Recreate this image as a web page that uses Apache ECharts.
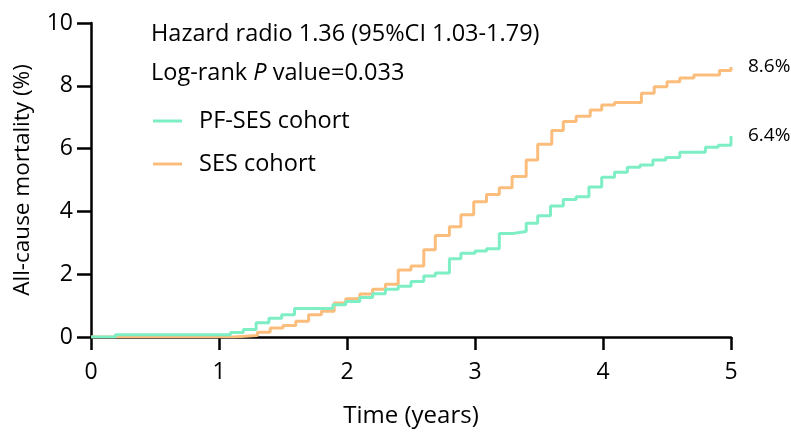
<!DOCTYPE html>
<html>
<head>
<meta charset="utf-8">
<script src="https://cdn.jsdelivr.net/npm/echarts@6/dist/echarts.min.js"></script>
<style>
  html, body { margin: 0; padding: 0; background: #fff; }
  #chart { width: 791px; height: 433px; }
</style>
</head>
<body>
<div id="chart"></div>
<script>
// time points (years) and cumulative mortality (%)
var pfTimes = [0, 0.19, 1.09, 1.19, 1.29, 1.39, 1.49, 1.59, 1.89, 1.99, 2.10, 2.20, 2.30, 2.40, 2.50, 2.60, 2.69, 2.80, 2.89, 3.00, 3.09, 3.19, 3.30, 3.40, 3.49, 3.59, 3.69, 3.79, 3.89, 3.99, 4.09, 4.19, 4.29, 4.39, 4.49, 4.60, 4.80, 4.90, 5.0];
var pfMort  = [0, 0.07, 0.14, 0.24, 0.45, 0.60, 0.71, 0.91, 1.03, 1.13, 1.26, 1.38, 1.52, 1.62, 1.77, 1.94, 2.04, 2.49, 2.67, 2.74, 2.81, 3.30, 3.36, 3.62, 3.86, 4.17, 4.38, 4.47, 4.78, 5.09, 5.25, 5.41, 5.48, 5.64, 5.72, 5.88, 6.04, 6.11, 6.4];

var sesTimes = [0, 1.11, 1.30, 1.40, 1.50, 1.60, 1.70, 1.80, 1.90, 1.99, 2.10, 2.20, 2.30, 2.40, 2.50, 2.60, 2.69, 2.80, 2.89, 2.99, 3.09, 3.19, 3.29, 3.40, 3.49, 3.60, 3.69, 3.79, 3.90, 3.99, 4.09, 4.30, 4.40, 4.50, 4.60, 4.71, 4.91, 5.0];
var sesMort  = [0, 0.05, 0.15, 0.29, 0.37, 0.50, 0.71, 0.82, 1.08, 1.22, 1.37, 1.52, 1.68, 2.13, 2.26, 2.78, 3.23, 3.51, 3.89, 4.31, 4.54, 4.75, 5.11, 5.64, 6.14, 6.58, 6.86, 7.03, 7.23, 7.39, 7.47, 7.76, 7.97, 8.13, 8.25, 8.34, 8.49, 8.6];

var xTicks = [0, 1, 2, 3, 4, 5];
var yTicks = [0, 2, 4, 6, 8, 10];

var green = '#7eeec5';
var orange = '#fbbd7c';
var font = 'Open Sans';

function pairs(ts, vs) {
  var out = [];
  for (var i = 0; i < ts.length; i++) out.push([ts[i], vs[i]]);
  return out;
}

var chart = echarts.init(document.getElementById('chart'));
chart.setOption({
  animation: false,
  textStyle: { fontFamily: font, color: '#000' },
  title: [
    {
      text: 'Hazard radio 1.36 (95%CI 1.03-1.79)',
      left: 146, top: 17,
      textStyle: { fontFamily: font, fontSize: 23.5, fontWeight: 'normal', color: '#000' }
    },
    {
      text: 'Log-rank {i|P} value=0.033',
      left: 146, top: 56,
      textStyle: {
        fontFamily: font, fontSize: 23.5, fontWeight: 'normal', color: '#000',
        rich: { i: { fontFamily: font, fontSize: 23.5, fontStyle: 'italic', color: '#000' } }
      }
    }
  ],
  legend: {
    orient: 'vertical',
    left: 148, top: 103,
    icon: 'rect',
    itemWidth: 29, itemHeight: 3,
    itemGap: 17,
    textStyle: { fontFamily: font, fontSize: 23.5, color: '#000', lineHeight: 26, padding: [0, 0, 0, 12] },
    data: ['PF-SES cohort', 'SES cohort']
  },
  grid: { left: 91, right: 60, top: 23, bottom: 92, containLabel: false },
  xAxis: {
    type: 'value',
    min: xTicks[0], max: xTicks[xTicks.length - 1], interval: 1,
    name: 'Time (years)',
    nameLocation: 'middle', nameGap: 67,
    nameTextStyle: { fontFamily: font, fontSize: 24, color: '#000' },
    axisLine: { lineStyle: { color: '#000', width: 2.5 } },
    axisTick: { length: 13, lineStyle: { color: '#000', width: 2.5 } },
    axisLabel: { fontFamily: font, fontSize: 23, color: '#000', margin: 24 },
    splitLine: { show: false }
  },
  yAxis: {
    type: 'value',
    min: yTicks[0], max: yTicks[yTicks.length - 1], interval: 2,
    name: 'All-cause mortality (%)',
    nameLocation: 'middle', nameGap: 57,
    nameTextStyle: { fontFamily: font, fontSize: 22.5, color: '#000' },
    axisLine: { show: true, lineStyle: { color: '#000', width: 2.5 } },
    axisTick: { show: true, length: 14, lineStyle: { color: '#000', width: 2.5 } },
    axisLabel: { fontFamily: font, fontSize: 23, color: '#000', margin: 18 },
    splitLine: { show: false }
  },
  series: [
    {
      name: 'PF-SES cohort',
      type: 'line',
      step: 'end',
      symbol: 'none',
      data: pairs(pfTimes, pfMort),
      itemStyle: { color: green },
      lineStyle: { color: green, width: 3 },
      endLabel: {
        show: true, distance: 17,
        formatter: '6.4%',
        fontFamily: font, fontSize: 19, color: '#000'
      },
      z: 3
    },
    {
      name: 'SES cohort',
      type: 'line',
      step: 'end',
      symbol: 'none',
      data: pairs(sesTimes, sesMort),
      itemStyle: { color: orange },
      lineStyle: { color: orange, width: 3 },
      endLabel: {
        show: true, distance: 17,
        formatter: '8.6%',
        fontFamily: font, fontSize: 19, color: '#000'
      },
      z: 2
    }
  ]
});
</script>
</body>
</html>
